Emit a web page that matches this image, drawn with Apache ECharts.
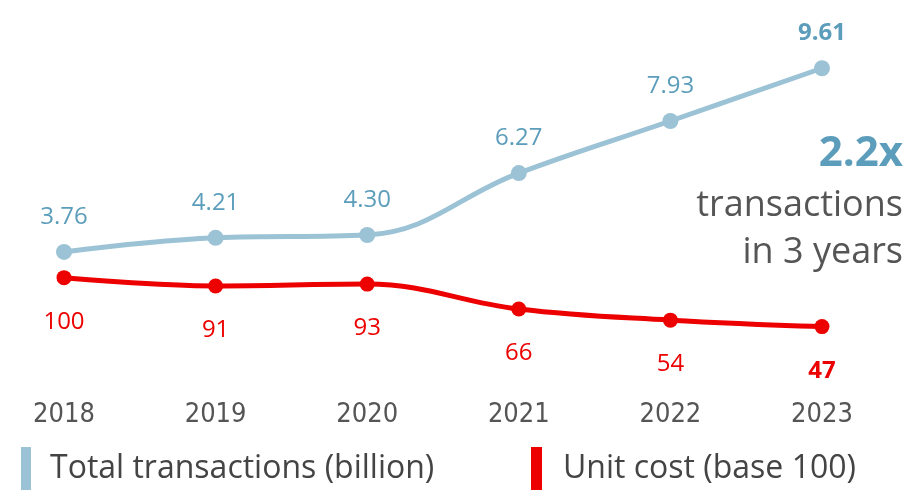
<!DOCTYPE html>
<html>
<head>
<meta charset="utf-8">
<script src="https://cdn.jsdelivr.net/npm/echarts@6/dist/echarts.min.js"></script>
<style>
  html, body { margin: 0; padding: 0; background: #fff; }
  #chart { width: 912px; height: 490px; }
</style>
</head>
<body>
<div id="chart"></div>
<script>
// Years on the horizontal axis
const years = ['2018', '2019', '2020', '2021', '2022', '2023'];
// Total transactions, billions
const transactions = [3.76, 4.21, 4.30, 6.27, 7.93, 9.61];
// Unit cost index, 2018 = 100
const unitCost = [100, 91, 93, 66, 54, 47];

const BLUE_LINE = '#9cc3d5';
const BLUE_TEXT = '#5b9dba';
const RED = '#ec0000';
const FONT = '"Open Sans", "Noto Sans", sans-serif';

const chart = echarts.init(document.getElementById('chart'), null, { renderer: 'canvas' });

const lastIdx = years.length - 1;

chart.setOption({
  animation: false,
  backgroundColor: '#ffffff',
  grid: { left: 64, right: 90, top: 56, bottom: 120 },
  xAxis: {
    type: 'category',
    data: years,
    boundaryGap: false,
    axisLine: { show: false },
    axisTick: { show: false },
    axisLabel: {
      margin: 31,
      color: '#555555',
      fontFamily: '"Liberation Sans Narrow", "DejaVu Sans Condensed", "Open Sans", sans-serif',
      fontSize: 27
    }
  },
  yAxis: [
    { type: 'value', min: 0, max: 10, show: false, splitLine: { show: false } },
    { type: 'value', min: 0, max: 340, show: false, splitLine: { show: false } }
  ],
  legend: [
    {
      data: ['Total transactions (billion)'],
      left: 16, top: 442,
      icon: 'rect', itemWidth: 10, itemHeight: 43,
      textStyle: { fontFamily: FONT, fontSize: 32, color: '#444444', padding: [0, 0, 0, 14] }
    },
    {
      data: ['Unit cost (base 100)'],
      left: 526, top: 442,
      icon: 'rect', itemWidth: 11, itemHeight: 43,
      textStyle: { fontFamily: FONT, fontSize: 32, color: '#444444', padding: [0, 0, 0, 16] }
    }
  ],
  series: [
    {
      name: 'Total transactions (billion)',
      type: 'line',
      yAxisIndex: 0,
      data: transactions.map((v, i) => ({
        value: v,
        label: i === lastIdx ? { fontWeight: 'bold' } : undefined
      })),
      smooth: 0.4,
      symbol: 'circle',
      symbolSize: 16,
      lineStyle: { color: BLUE_LINE, width: 5 },
      itemStyle: { color: BLUE_LINE },
      label: {
        show: true,
        position: 'top',
        distance: 15,
        color: BLUE_TEXT,
        fontFamily: FONT,
        fontSize: 24,
        formatter: p => p.value.toFixed(2)
      }
    },
    {
      name: 'Unit cost (base 100)',
      type: 'line',
      yAxisIndex: 1,
      data: unitCost.map((v, i) => ({
        value: v,
        label: i === lastIdx ? { fontWeight: 'bold' } : undefined
      })),
      smooth: 0.4,
      symbol: 'circle',
      symbolSize: 15,
      lineStyle: { color: RED, width: 5 },
      itemStyle: { color: RED },
      label: {
        show: true,
        position: 'bottom',
        distance: 25,
        color: RED,
        fontFamily: FONT,
        fontSize: 24
      }
    }
  ],
  graphic: [
    {
      type: 'text', right: 9, top: 133,
      style: { text: '2.2x', fill: BLUE_TEXT, font: 'bold 42px ' + FONT, textAlign: 'right' }
    },
    {
      type: 'text', right: 9, top: 188,
      style: { text: 'transactions', fill: '#555555', font: '36px ' + FONT, textAlign: 'right' }
    },
    {
      type: 'text', right: 9, top: 235,
      style: { text: 'in 3 years', fill: '#555555', font: '36px ' + FONT, textAlign: 'right' }
    }
  ]
});
</script>
</body>
</html>
